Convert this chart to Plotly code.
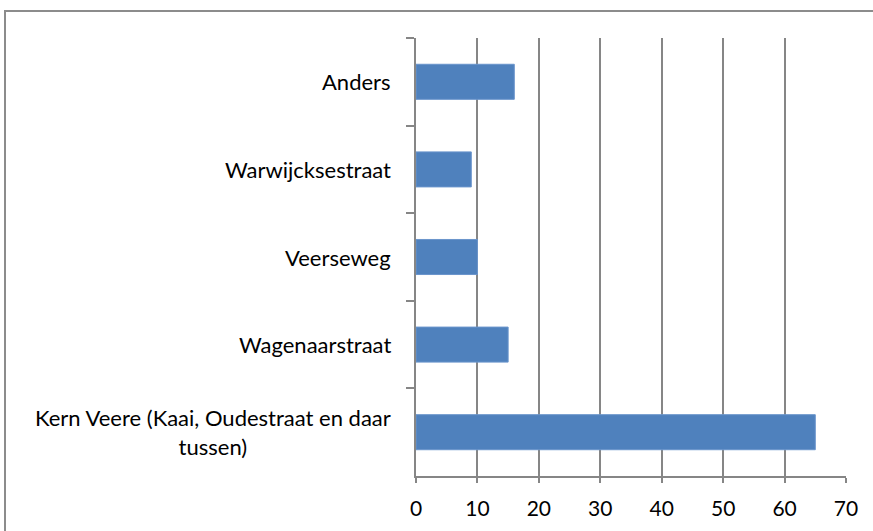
import plotly.graph_objects as go

categories = ["Anders", "Warwijcksestraat", "Veerseweg", "Wagenaarstraat",
              "Kern Veere (Kaai, Oudestraat en daar<br>tussen)"]
values = [16, 9, 10, 15, 65]
x_ticks = [0, 10, 20, 30, 40, 50, 60, 70]

W, H = 873, 531
L, R, T, B = 416, 27, 38, 55
pw, ph = W - L - R, H - T - B
FONT = "Lato"
FS = 21
GRID = "#868686"

fig = go.Figure(go.Bar(
    x=values, y=categories, orientation="h",
    marker=dict(color="#4F81BD", line=dict(color="#6A95CC", width=1)),
    width=0.4,
))

for c in categories:
    fig.add_annotation(x=0, xref="paper", xshift=-23, y=c, yref="y",
                       text=c, showarrow=False, xanchor="right", align="center",
                       font=dict(family=FONT, size=22, color="#000000"))

fig.add_shape(type="rect", xref="paper", yref="paper",
              x0=(5 - L) / pw, x1=1.3, y0=-0.3, y1=(H - B - 11) / ph,
              line=dict(color="#8c8c8c", width=2), fillcolor="rgba(0,0,0,0)", layer="below")

fig.update_layout(
    width=W, height=H,
    margin=dict(l=L, r=R, t=T, b=B, pad=0),
    paper_bgcolor="white", plot_bgcolor="white",
    showlegend=False,
    xaxis=dict(range=[0, 70], tickvals=x_ticks, showgrid=True, gridcolor=GRID, gridwidth=2,
               showline=True, linecolor=GRID, linewidth=2, zeroline=False,
               ticks="outside", ticklen=5, tickcolor=GRID, tickwidth=2,
               ticklabelstandoff=8,
               tickfont=dict(family=FONT, size=FS, color="#000000")),
    yaxis=dict(autorange="reversed", showgrid=False, showline=True, linecolor=GRID, linewidth=2,
               ticks="outside", tickson="boundaries", ticklen=8, tickcolor=GRID, tickwidth=2,
               showticklabels=False, zeroline=False),
)

fig.write_html("out.html", config={"displayModeBar": False},
               post_script="document.body.style.margin='0';")
